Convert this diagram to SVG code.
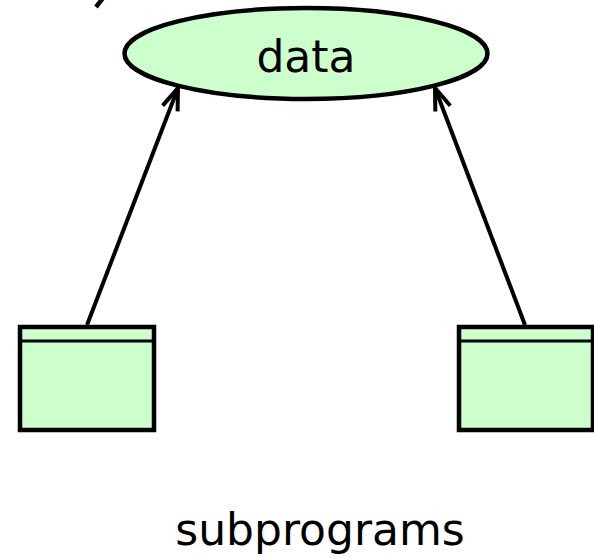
<svg xmlns="http://www.w3.org/2000/svg" width="594" height="559" viewBox="0 0 594 559">
<style>
.node{fill:#CCFFCC;stroke:#000;stroke-width:4.5}
.lbl{font-family:"DejaVu Sans",sans-serif;fill:#000;text-anchor:middle}
.conn{stroke:#000;stroke-width:4;fill:none}
</style>
<defs>
<marker id="arr" markerUnits="userSpaceOnUse" markerWidth="30" markerHeight="30" viewBox="-25 -12 30 24" refX="0" refY="0" orient="auto" overflow="visible">
<path d="M-22,-8 L0,0 L-22,8" fill="none" stroke="#000" stroke-width="4"/>
</marker>
</defs>
<g id="stub"><line x1="103" y1="-2" x2="96" y2="7" stroke="#000" stroke-width="4.5"/></g>
<g id="connectors">
<line class="conn" x1="87" y1="325" x2="178" y2="88" marker-end="url(#arr)"/>
<line class="conn" x1="525" y1="325" x2="435" y2="88" marker-end="url(#arr)"/>
</g>
<g id="data">
<ellipse class="node" cx="306" cy="53.5" rx="181.5" ry="45.5"/>
<text class="lbl" x="306" y="72" font-size="44">data</text>
</g>
<g id="subprogram1">
<rect class="node" x="20" y="327" width="134" height="103"/>
<line x1="20" y1="341" x2="154" y2="341" stroke="#000" stroke-width="3"/>
</g>
<g id="subprogram2">
<rect class="node" x="459" y="327" width="134" height="103"/>
<line x1="459" y1="341" x2="593" y2="341" stroke="#000" stroke-width="3"/>
</g>
<g id="label">
<text class="lbl" x="320" y="545" font-size="44">subprograms</text>
</g>
</svg>
